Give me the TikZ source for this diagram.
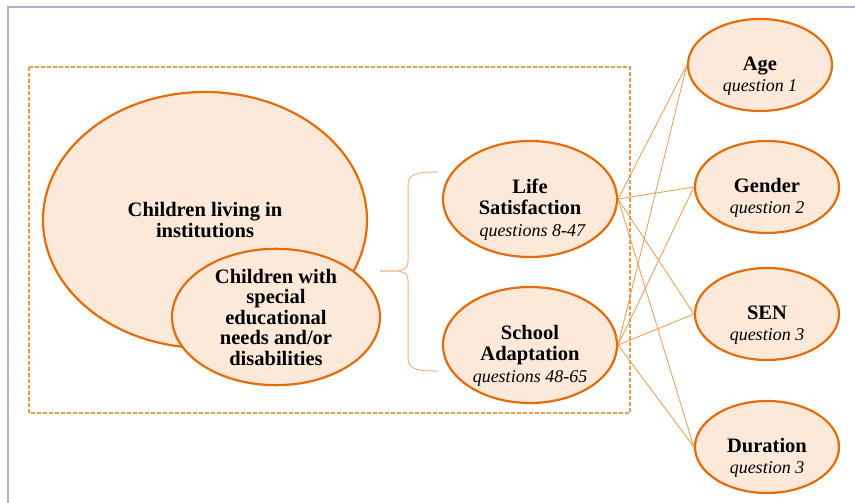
\documentclass[tikz,border=0pt]{standalone}
\usepackage{fontspec}
\setmainfont{Liberation Serif}
\usetikzlibrary{positioning}
\usetikzlibrary{shapes}

\definecolor{ovalline}{HTML}{E46C0A}
\definecolor{ovalfill}{HTML}{FDE9D9}
\definecolor{linkline}{HTML}{F79646}
\definecolor{braceline}{HTML}{F4B183}
\definecolor{frameline}{HTML}{A7B7CB}
\newcommand{\qtext}[1]{{\normalfont\itshape\fontsize{18}{20.5}\selectfont #1}}

\begin{document}
\begin{tikzpicture}[x=1pt,y=-1pt,
  txt/.style={align=center,inner sep=0pt,font=\bfseries\fontsize{20.5}{20.5}\selectfont},
  oval/.style={ellipse,draw=ovalline,fill=ovalfill,line width=2.2pt,inner sep=0pt,txt},
  measure/.style={oval,minimum width=174pt,minimum height=116pt},
  factor/.style={oval,minimum width=144pt,minimum height=92pt},
  link/.style={draw=linkline,line width=0.8pt}]
\useasboundingbox (0,0) rectangle (855,503);
\draw[frameline,line width=2pt] (8,503) -- (8,7) -- (855,7);
\draw[linkline,line width=1.2pt,dash pattern=on 4pt off 2pt] (29,67) rectangle (630,413);
% groups of children
\node[oval,minimum width=324pt,minimum height=256pt] (inst) at (205,220) {Children living in\\institutions};
\node[oval,minimum width=208pt,minimum height=134pt] (sen) at (276,317) {Children with\\special\\educational\\needs and/or\\disabilities};
\draw[braceline,line width=1pt] (438,172) to[out=180,in=90] (408,184) -- (408,262)
  to[out=-90,in=0] (380,271) to[out=0,in=90] (408,280) -- (408,359) to[out=-90,in=180] (438,371);
% measures
\node[measure,label={[txt,yshift=-11pt]center:{Life\\Satisfaction\\[2pt]\qtext{\ questions 8-47}}}] (life) at (530,199) {};
\node[measure,label={[txt,yshift=-11pt]center:{School\\Adaptation\\[2pt]\qtext{questions 48-65}}}] (school) at (530,345) {};
% factors
\node[factor,label={[txt,yshift=-11pt]center:{Age\\\qtext{question 1}}}] (age) at (760,65) {};
\node[factor,label={[txt,yshift=-11pt]center:{Gender\\\qtext{question 2}}}] (gender) at (767,187) {};
\node[factor,label={[txt,yshift=-11pt]center:{SEN\\\qtext{question 3}}}] (senf) at (767,314) {};
\node[factor,label={[txt,yshift=-11pt]center:{Duration\\\qtext{question 3}}}] (duration) at (767,447) {};
\foreach \m in {life,school}
  \foreach \f in {age,gender,senf,duration}
    \draw[link] (\m.east) -- (\f.west);
\end{tikzpicture}
\end{document}
